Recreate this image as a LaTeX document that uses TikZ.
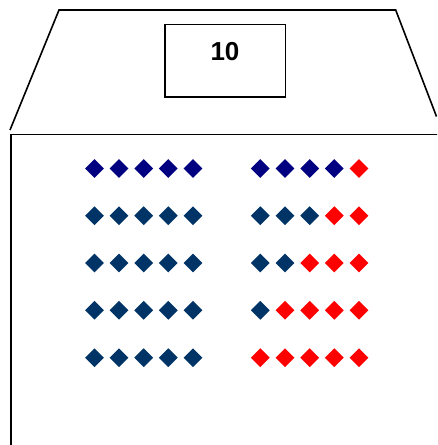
\documentclass[tikz,border=0pt]{standalone}
\usepackage{fontspec}
\setmainfont{Liberation Sans}
\usetikzlibrary{shapes.geometric}
\definecolor{navyA}{HTML}{000080}
\definecolor{navyB}{HTML}{003366}
\definecolor{redA}{HTML}{FF0000}
\begin{document}
\begin{tikzpicture}[x=1pt,y=-1pt,
  outline/.style={draw=black,line width=1.6pt},
  gem/.style={diamond,inner sep=0pt,minimum width=19pt,minimum height=19pt,draw=none}]
\useasboundingbox (0,0) rectangle (437,445);
\begin{scope}
\clip (0,0) rectangle (437,445);
\draw[outline] (10,130) -- (59,10) -- (395.7,10) -- (436.5,116.5);
\draw[outline] (11,445) -- (11,134.5) -- (440,134.5);
\end{scope}
\node[outline,minimum width=120.6pt,minimum height=72.4pt,inner sep=0pt] (box) at (225,60.5) {};
\node[font=\bfseries\fontsize{26}{26}\selectfont] (num) at (225,52) {10};
% left group
\foreach \c/\x in {1/94.5,2/119,3/143.7,4/168.3,5/193}{
  \node[gem,fill=navyA] (L1\c) at (\x,168.5) {};
  \foreach \r/\y in {2/215.7,3/263,4/310.3,5/357.7}{
    \node[gem,fill=navyB] (L\r\c) at (\x,\y) {};
  }
}
% right group
\foreach \r/\y/\n in {1/168.5/4,2/215.7/3,3/263/2,4/310.3/1,5/357.7/0}{
  \foreach \c/\x in {1/260.3,2/285,3/309.7,4/334.3,5/359}{
    \pgfmathsetmacro{\isblue}{\c<=\n ? 1 : 0}
    \ifnum\isblue=1
      \ifnum\r=1
        \node[gem,fill=navyA] (R\r\c) at (\x,\y) {};
      \else
        \node[gem,fill=navyB] (R\r\c) at (\x,\y) {};
      \fi
    \else
      \node[gem,fill=redA] (R\r\c) at (\x,\y) {};
    \fi
  }
}
\end{tikzpicture}
\end{document}
